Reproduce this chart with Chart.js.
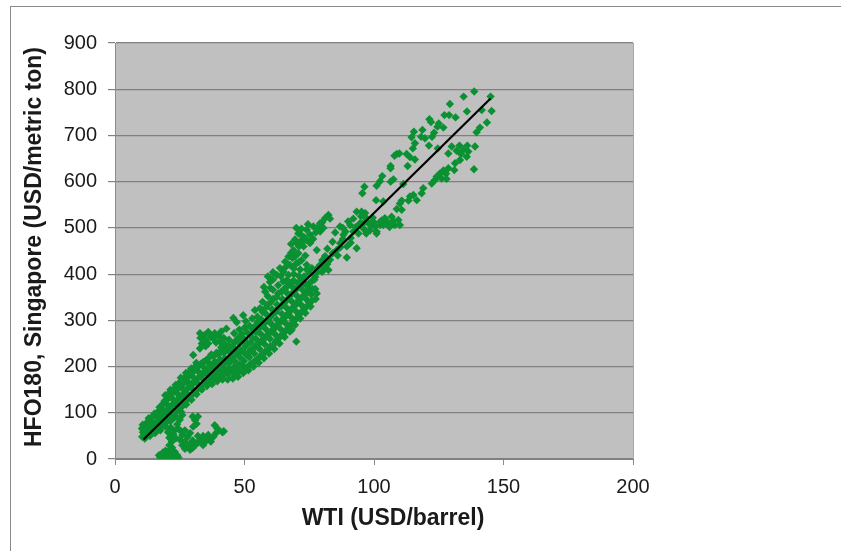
<!DOCTYPE html>
<html>
<head>
<meta charset="utf-8">
<title>HFO180 vs WTI</title>
<script src="https://cdn.jsdelivr.net/npm/chart.js@4"></script>
<style>
    body { margin: 0; background: #fff; overflow: hidden; }
    #frame { position: absolute; left: 10px; top: 6px; width: 831px; height: 545px; border-left: 1px solid #8a8a8a; border-top: 1px solid #8a8a8a; }
    canvas { position: absolute; left: 0; top: 0; }
</style>
</head>
<body>
<div id="frame"></div>
<canvas id="priceChart" width="841" height="551"></canvas>
<script>
const xTicks = [0, 50, 100, 150, 200];
const yTicks = [0, 100, 200, 300, 400, 500, 600, 700, 800, 900];
const xTitle = 'WTI (USD/barrel)';
const yTitle = 'HFO180, Singapore (USD/metric ton)';
const trendWti = [11, 145];
const trendHfo = [42, 780];

const bottomBlob = [[18,4],[19,10],[20,3],[21,12],[22,5],[23,2],[24,8],[19.5,18],[21.5,22],[23,16],[17,8],[18.5,14],[20.5,1],[22.5,11],[17.5,3],[24.5,3]];
const stem = [[21,30],[22,38],[21,46],[22.5,54],[23,62],[21.5,68],[22,25],[23.5,45],[24,75],[25,85],[23,90],[24.5,65],[26,95],[20.5,58]];
const lowerLoop = [[25,42],[26,30],[27,22],[28,26],[29,20],[30,24],[31,30],[27,38],[26,52],[25.5,60],[28,48],[30,40],[32,36],[33,42],[34,30],[35,38],[36,44],[37,38],[38,48],[39,56],[40,62],[41.5,58],[42,60],[38.5,73],[39.5,66],[36,52],[34,50],[29,56],[32,50],[27,62],[29,32],[30.9,84],[30,92],[32,92],[31.5,76],[30.2,70]];

const bandLow = [[10.5,48],[10.8,58],[10.4,66],[10.7,74],[11.5,44],[12,54],[12.3,62],[11.8,72],[12.5,80],[13.5,50],[14,60],[13.8,70],[14.2,82],[14.5,92],[15.5,56],[16,66],[15.8,78],[16.2,90],[16.5,102],[17.5,62],[18,72],[17.8,84],[18.2,96],[18.4,108],[18.6,120],[19.5,70],[20,80],[19.8,92],[20.2,104],[20.4,116],[20.1,128],[20.5,140],[21.5,82],[22,94],[21.8,106],[22.2,118],[22.4,130],[22.1,142],[22.6,150],[23.5,92],[24,104],[23.8,116],[24.2,128],[24.4,140],[24.1,152],[24.6,164],[25.5,102],[26,114],[25.8,126],[26.2,138],[26.4,150],[26.1,162],[26.6,174],[27.5,118],[28,130],[27.8,142],[28.2,154],[28.4,166],[28.1,178],[28.6,188],[29.5,128],[30,140],[29.8,152],[30.2,164],[30.4,176],[30.1,188],[30.6,198]];
const bandLowFill = [[12.8,66],[13,88],[15,72],[15.2,98],[16.8,74],[17,96],[17.2,112],[18.8,80],[19,102],[19.2,126],[19.4,138],[20.8,90],[21,112],[21.2,134],[21.4,150],[22.9,100],[23,122],[23.2,146],[23.4,160],[24.8,110],[25,134],[25.2,158],[25.4,176],[26.9,122],[27,144],[27.2,168],[27.4,186],[28.8,136],[29,160],[29.2,182],[29.4,196],[30.9,146],[31,170],[31.2,194],[31.4,208],[32.8,158],[33,182],[33.2,206],[34.9,168],[35,192],[35.2,214],[36.9,176],[37,202],[37.2,226],[38.9,182],[39,208],[39.2,230],[40.9,186],[41,212],[41.2,236],[42.9,190],[43,214],[43.2,238],[44.9,192],[45,218],[45.2,244],[46.9,196],[47,228],[47.2,256],[48.9,204],[49,234],[49.2,262]];
const bandMid = [[31.5,140],[32,152],[31.8,164],[32.2,176],[32.4,188],[32.1,200],[33.5,150],[34,162],[33.8,174],[34.2,186],[34.4,198],[34.1,210],[35.5,158],[36,170],[35.8,182],[36.2,194],[36.4,206],[36.1,218],[37.5,162],[38,174],[37.8,186],[38.2,198],[38.4,210],[38.1,222],[39.5,168],[40,178],[39.8,190],[40.2,202],[40.4,214],[40.1,226],[41.5,172],[42,182],[41.8,194],[42.2,206],[42.4,218],[42.1,230],[43.5,172],[44,184],[43.8,196],[44.2,208],[44.4,220],[44.1,232],[45.5,174],[46,186],[45.8,198],[46.2,212],[46.4,226],[46.1,240],[47.5,178],[48,190],[47.8,204],[48.2,220],[48.4,236],[48.1,250],[49.5,186],[50,196],[49.8,212],[50.2,228],[50.4,244],[50.1,258],[51.5,192],[52,204],[51.8,220],[52.2,236],[52.4,252],[52.1,268],[53.5,200],[54,212],[53.8,228],[54.2,244],[54.4,260],[54.1,276],[54.5,290]];
const bandHigh = [[55.5,208],[56,222],[55.8,238],[56.2,254],[56.4,270],[56.1,286],[56.5,302],[57.5,218],[58,232],[57.8,248],[58.2,264],[58.4,280],[58.1,296],[58.6,312],[58.3,328],[59.5,228],[60,244],[59.8,260],[60.2,276],[60.4,292],[60.1,308],[60.6,324],[60.3,340],[61.5,238],[62,254],[61.8,270],[62.2,286],[62.4,302],[62.1,318],[62.6,334],[62.3,350],[63.5,250],[64,266],[63.8,282],[64.2,298],[64.4,314],[64.1,330],[64.6,346],[64.3,362],[65.5,264],[66,278],[65.8,294],[66.2,310],[66.4,326],[66.1,342],[66.6,358],[66.3,372],[67.5,276],[68,292],[67.8,308],[68.2,324],[68.4,340],[68.1,356],[68.6,372],[68.2,279],[70,254],[69.5,290],[70,304],[69.8,320],[70.2,336],[70.4,352],[70.1,368],[70.6,380],[71.5,304],[72,318],[71.8,334],[72.2,350],[72.4,366],[72.1,378],[73.5,316],[74,330],[73.8,346],[74.2,360],[74.4,373],[75.5,330],[76,342],[75.8,356],[76.2,368],[77.5,346],[77.9,358],[77.3,368]];
const bandHighFill = [[51,198],[51,226],[51,250],[51,274],[53,208],[53,236],[53,262],[53,282],[55,216],[55,246],[55,276],[55,296],[57,226],[57,256],[57,288],[57,318],[59,236],[59,268],[59,302],[59,334],[59,352],[61,246],[61,280],[61,314],[61,346],[61,366],[63,260],[63,292],[63,326],[63,358],[63,376],[65,272],[65,304],[65,336],[65,366],[65,384],[67,284],[67,316],[67,348],[67,380],[69,298],[69,330],[69,362],[69,386],[71,312],[71,344],[71,374],[73,324],[73,354],[73,382],[75,338],[75,366],[75,380]];

const upperBranchLeft = [[32.8,272],[33,262],[34.5,268],[36,275],[37,264],[38.5,272],[40,266],[41,276],[43,282],[42,262],[44,258],[39,252],[36,250],[33.5,250],[30.2,225],[32.8,239],[35,244],[45.7,305],[47,296],[49.5,311],[50.5,298],[48,280],[46,272],[52,288],[54,322],[55,308],[59.8,383],[57,340],[58,362],[59,395],[61,388],[35,258],[38,260],[40.5,254],[42.5,248],[44,244],[41,242],[46,252],[47.5,262],[49,270],[50,284],[53,304],[56,326],[57.5,372],[60,370]];
const upperBranch = [[82.4,528],[81.1,521],[79.2,510],[76.6,503],[74,496],[70.8,488],[75.3,485],[79.2,492],[71.5,470],[68.9,452],[67,438],[65.7,427],[70,423],[74,420],[76,413],[63.7,413],[59.9,391],[62.5,398],[66.3,387],[77.9,452],[75.3,467],[72.8,460],[70.8,445],[68.5,435],[67.5,420],[71.5,410],[72,498],[73,480],[69.5,475],[71,460],[68,465],[72,430],[65,405],[69,400],[73,395],[77,400],[68,382],[72,388],[76,385],[80,512],[83,520],[77.5,490],[74.5,508],[70,500],[72,484],[74,474],[76.5,476],[78,500],[80.5,500],[70,468],[68,446],[69.5,438],[71,426],[73.5,440],[66,416],[64,396],[61,404],[67,398],[71,396],[75,402],[74,410],[78,412],[77,388],[69,412],[73,472]];
const rightBranch = [[93.3,535],[96.6,532],[86.9,503],[90.8,506],[94.6,510],[98.5,506],[102.4,506],[105,514],[101,492],[88.2,485],[92,492],[86.9,467],[89.5,460],[93.3,456],[89.5,436],[85.6,452],[81.1,439],[83,431],[82.4,409],[79.2,420],[77.3,394],[84,470],[82,455],[86,440],[80,405],[91,478],[88,500],[95,525],[92,520],[97,515],[95.2,535],[96.5,524],[98.5,510],[95.9,510],[98.5,495],[100.4,503],[101,488],[102.3,513],[103.6,506],[104.2,521],[105.5,510],[106.8,524],[108,506],[109.4,517],[110,506],[89,492],[90,514],[93,502],[96,498],[94,488],[91,468],[88,476],[85,490],[87,458],[84,445],[82,422],[80,430],[81,414],[78,404],[99.5,522],[103,516],[106,502],[107.5,515],[97,488],[100,512]];
const topScatter = [[138.7,795],[145,784],[134.6,784],[129.3,768],[145.4,753],[135.9,752],[141.6,755],[127.2,744],[129,744],[131.5,739],[121.4,735],[122,729],[143.6,728],[125,726],[124.5,719],[126.8,717],[115.4,708],[114.5,696],[118.7,712],[118.2,697],[119.7,694],[123.2,706],[122.4,697],[140.9,717],[139.6,707],[115.8,683],[115,672],[121.2,678],[124.6,672],[130,676],[133,678],[136,678],[139,676],[131.9,667],[134.5,669],[136.4,665],[135.8,654],[133.6,660],[128.7,661],[133.2,647],[131.3,640],[108.8,660],[109.8,661],[107.9,656],[112.6,660],[113.9,653],[115.8,648],[113,634],[106.4,634],[106.4,629],[138.6,627],[131,625],[128.7,629],[126.8,624],[127.8,617],[125.5,618],[124.2,611],[126.1,607],[128,606],[123.6,604],[122.3,596],[103.2,612],[102.3,601],[101,591],[107.5,605],[106.4,600],[96.3,589],[95.5,575],[111.3,595],[119,586],[118.4,575],[115.2,571],[113.9,568],[116.5,560],[113.3,559],[110.7,559],[110,553],[108.8,541],[110.7,539],[100.8,560],[103.6,557]];

const allPoints = [bottomBlob, stem, lowerLoop, bandLow, bandLowFill, bandMid, bandHigh, bandHighFill, upperBranchLeft, upperBranch, rightBranch, topScatter]
    .flat().map(p => ({ x: p[0], y: p[1] }));

// grey plot area behind the grid
const plotBackground = {
    id: 'plotBackground',
    beforeDraw(chart) {
        const { ctx, chartArea: a } = chart;
        ctx.save();
        ctx.fillStyle = '#c0c0c0';
        ctx.fillRect(a.left, a.top, a.width, a.height);
        ctx.strokeStyle = '#a8a8a8';
        ctx.beginPath();
        ctx.moveTo(a.right + 0.5, a.top);
        ctx.lineTo(a.right + 0.5, a.bottom);
        ctx.stroke();
        ctx.restore();
    }
};

// the titles sit off centre in the original, so they are placed by hand
const axisTitles = {
    id: 'axisTitles',
    afterDraw(chart) {
        const ctx = chart.ctx;
        ctx.save();
        ctx.fillStyle = '#1a1a1a';
        ctx.font = 'bold 23px "Liberation Sans"';
        ctx.textAlign = 'center';
        ctx.textBaseline = 'middle';
        ctx.fillText(xTitle, 393, 519);
        ctx.translate(35, 247);
        ctx.rotate(-Math.PI / 2);
        ctx.fillText(yTitle, 0, 0);
        ctx.restore();
    }
};

new Chart(document.getElementById('priceChart'), {
    type: 'scatter',
    data: {
        datasets: [{
            label: 'Linear',
            data: trendWti.map((x, i) => ({ x: x, y: trendHfo[i] })),
            showLine: true,
            borderColor: '#000',
            borderWidth: 2.2,
            pointRadius: 0
        }, {
            label: 'HFO180',
            data: allPoints,
            pointStyle: 'rectRot',
            pointRadius: 4.2,
            pointBorderWidth: 0,
            backgroundColor: '#0a9232'
        }]
    },
    options: {
        responsive: false,
        animation: false,
        layout: { padding: { top: 43, right: 208, left: 0, bottom: 0 } },
        plugins: { legend: { display: false }, tooltip: { enabled: false } },
        scales: {
            x: {
                min: 0, max: 200,
                afterFit: s => { s.height = 92; },
                afterBuildTicks: s => { s.ticks = xTicks.map(v => ({ value: v })); },
                grid: { drawOnChartArea: false, color: '#8a8a8a', tickLength: 6 },
                border: { color: '#808080' },
                ticks: { color: '#1a1a1a', font: { family: 'Liberation Sans', size: 20 }, maxRotation: 0, padding: 10 }
            },
            y: {
                min: 0, max: 900,
                afterFit: s => { s.width = 115; },
                afterBuildTicks: s => { s.ticks = yTicks.map(v => ({ value: v })); },
                grid: { color: '#808080', tickLength: 7, lineWidth: 1.2 },
                border: { color: '#8c8c8c' },
                ticks: { color: '#1a1a1a', font: { family: 'Liberation Sans', size: 20 }, padding: 11 }
            }
        }
    },
    plugins: [plotBackground, axisTitles]
});
</script>
</body>
</html>
